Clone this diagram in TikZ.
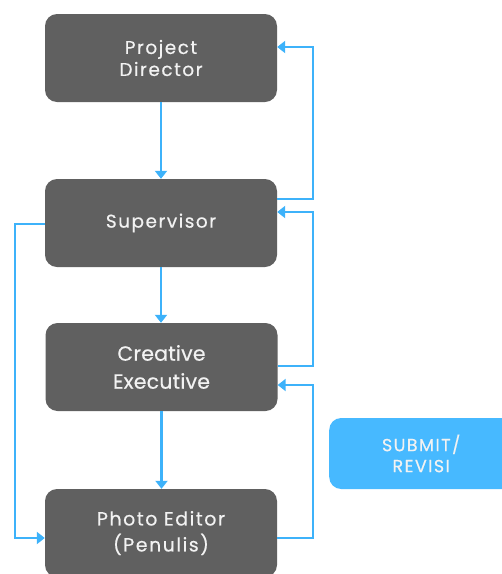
\documentclass[tikz,border=0pt]{standalone}
\usepackage{fontspec}
\setmainfont{Poppins}[FakeBold=0.4]
\usetikzlibrary{arrows.meta}
\definecolor{boxgray}{HTML}{606060}
\definecolor{flowblue}{HTML}{3DB2FA}
\definecolor{submitblue}{HTML}{47B9FF}
\definecolor{txt}{HTML}{F2F2F2}
\begin{document}
\begin{tikzpicture}[x=1pt,y=-1pt,
  rolebox/.style={fill=boxgray, rounded corners=12pt, minimum width=232pt, minimum height=88pt, inner sep=0pt, text=txt, align=center},
  flow/.style={draw=flowblue, line width=2.8pt, -{Triangle[length=8pt,width=12pt]}}]
\useasboundingbox (0,0) rectangle (502,574);
\clip (0,0) rectangle (502,574);
\node[rolebox, font={\addfontfeature{LetterSpace=8}\fontsize{18.5}{22}\selectfont}] (pd) at (161,58) {Project\\Director};
\node[rolebox, font={\addfontfeature{LetterSpace=8}\fontsize{18.5}{22}\selectfont}] (sup) at (161,223) {Supervisor};
\node[rolebox, font={\addfontfeature{LetterSpace=1}\fontsize{20.5}{28}\selectfont}] (ce) at (161.5,367) {Creative\\Executive};
\node[rolebox, font={\addfontfeature{LetterSpace=8}\fontsize{19}{26}\selectfont}] (pe) at (161,533) {Photo Editor\\(Penulis)};
\node[fill=submitblue, rounded corners=12pt, minimum width=200pt, minimum height=71pt, inner sep=0pt, text=txt, align=center, anchor=west, font={\addfontfeature{LetterSpace=8}\fontsize{17.5}{21}\selectfont}] (sub) at (329,453.5) {\hspace*{-16pt}SUBMIT/\\\hspace*{-16pt}REVISI};
% downward flow
\draw[flow] (pd.south) -- (pd.south |- sup.north);
\draw[flow] (sup.south) -- (sup.south |- ce.north);
\draw[flow] (ce.south) -- (ce.south |- pe.north);
% feedback loops on the right
\coordinate (r1) at (313,199);
\coordinate (r2) at (313,47);
\draw[flow] (sup.east |- r1) -- (r1) -- (r2) -- (pd.east |- r2);
\coordinate (r3) at (313,366);
\coordinate (r4) at (313,212);
\draw[flow] (ce.east |- r3) -- (r3) -- (r4) -- (sup.east |- r4);
\coordinate (r5) at (313,538);
\coordinate (r6) at (313,385);
\draw[flow] (pe.east |- r5) -- (r5) -- (r6) -- (ce.east |- r6);
% left loop
\coordinate (l1) at (15,224);
\coordinate (l2) at (15,538);
\draw[flow] (sup.west |- l1) -- (l1) -- (l2) -- (pe.west |- l2);
\end{tikzpicture}
\end{document}
